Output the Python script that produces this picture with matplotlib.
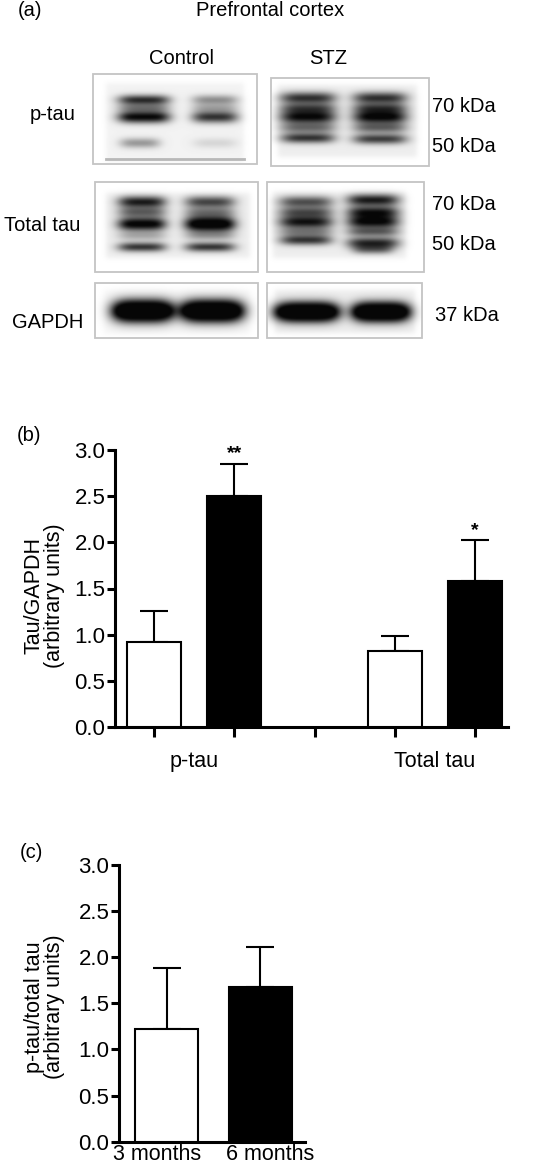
import numpy as np
import matplotlib
matplotlib.use('Agg')
import matplotlib.pyplot as plt
import matplotlib.transforms as mtransforms
from matplotlib.patches import Rectangle

plt.rcParams['font.family'] = ['Liberation Sans', 'DejaVu Sans']
plt.rcParams['font.size'] = 14

# ---- dati pannello (b)
groups_b = ['p-tau', 'Total tau']
control_b = [0.92, 0.82]
control_b_err = [0.34, 0.17]
stz_b = [2.50, 1.585]
stz_b_err = [0.35, 0.435]
stars_b = ['**', '*']

# ---- dati pannello (c)
ages_c = ['3 months', '6 months']
ratio_c = [1.22, 1.68]
ratio_c_err = [0.66, 0.43]

# ---- western blot (a): riquadri e bande (coordinate in pixel dell'immagine)
blot_boxes = [(93, 74, 257, 164), (271, 78, 429, 166),
              (95, 182, 258, 272), (267, 182, 424, 272),
              (95, 283, 258, 338), (267, 283, 422, 338)]
blot_inner = [(106, 83, 244, 162), (278, 85, 417, 157),
              (106, 193, 250, 258), (273, 192, 406, 258),
              (104, 290, 250, 334), (275, 290, 415, 333)]
blot_bg = [0.95, 0.93, 0.93, 0.93, 0.97, 0.93]
# (centro x, centro y, mezza larghezza, mezza altezza, intensita')
blot_bands = [
    [(144, 100, 26, 4, 1.0), (144, 108, 26, 3, 0.55), (144, 117, 26, 5, 1.2), (140, 143, 20, 4, 0.45),
     (215, 100, 23, 4, 0.5), (215, 108, 23, 3, 0.35), (215, 117, 23, 5, 0.9), (215, 143, 22, 4, 0.14)],
    [(308, 98, 28, 5, 0.9), (308, 108, 28, 4, 0.7), (308, 117, 28, 6, 1.05), (308, 128, 28, 4, 0.6), (308, 138, 27, 4, 0.95),
     (380, 98, 27, 5, 0.9), (380, 108, 27, 4, 0.75), (380, 117, 27, 6, 1.1), (380, 128, 27, 4, 0.65), (380, 139, 27, 4, 0.9)],
    [(142, 202, 24, 5, 1.0), (142, 212, 24, 4, 0.65), (142, 224, 24, 6, 1.2), (142, 236, 24, 3, 0.35), (142, 247, 24, 3.5, 1.0),
     (210, 202, 25, 5, 0.8), (210, 212, 25, 4, 0.5), (210, 224, 25, 7, 1.4), (210, 236, 25, 3, 0.4), (210, 247, 25, 3.5, 1.0)],
    [(306, 202, 27, 5, 0.75), (306, 212, 27, 4, 0.7), (306, 222, 27, 6, 1.0), (306, 232, 27, 3, 0.5), (306, 240, 26, 4, 0.95),
     (373, 200, 26, 5, 1.0), (373, 212, 26, 5, 0.95), (373, 222, 26, 6, 1.05), (373, 232, 26, 3, 0.7), (373, 243, 26, 5, 0.95), (373, 250, 20, 3, 0.6)],
    [(143, 311, 30, 10, 2.0), (212, 311, 31, 10, 2.0)],
    [(307, 312, 31, 8.5, 2.2), (381, 312, 28, 8.5, 2.2)],
]

W, H = 541, 1168
fig = plt.figure(figsize=(W / 100, H / 100), dpi=100)


def px_axes(x0, y0, x1, y1):
    return fig.add_axes([x0 / W, 1 - y1 / H, (x1 - x0) / W, (y1 - y0) / H])


def sig(v):
    return 1 / (1 + np.exp(-v))


def blur(a, sigma):
    # sfocatura gaussiana separabile
    r = int(3 * sigma)
    k = np.exp(-0.5 * (np.arange(-r, r + 1) / sigma) ** 2)
    k /= k.sum()
    a = np.apply_along_axis(lambda v: np.convolve(np.pad(v, r, mode='edge'), k, mode='valid'), 0, a)
    a = np.apply_along_axis(lambda v: np.convolve(np.pad(v, r, mode='edge'), k, mode='valid'), 1, a)
    return a


# ================= pannello (a)
ax_a = px_axes(0, 0, W, 350)

for box, inner, bg, bands in zip(blot_boxes, blot_inner, blot_bg, blot_bands):
    x0, y0, x1, y1 = box
    xs = np.arange(x0, x1, 0.5) + 0.25
    ys = np.arange(y0, y1, 0.5) + 0.25
    X, Y = np.meshgrid(xs, ys)
    ix0, iy0, ix1, iy1 = inner
    mask = sig((X - ix0) / 1.5) * sig((ix1 - X) / 1.5) * sig((Y - iy0) / 1.5) * sig((iy1 - Y) / 1.5)
    base = 1 - (1 - bg) * mask
    dark = np.zeros_like(X)
    for cx, cy, hw, hh, s in bands:
        dark += s * np.exp(-(np.abs(X - cx) / hw) ** 4 - ((Y - cy) / hh) ** 2)
    dark = blur(np.clip(dark, 0, 1), 4.5)
    img = base * (1 - 0.97 * np.clip(dark * 1.08, 0, 1))
    ax_a.imshow(img, cmap='gray', vmin=0, vmax=1, extent=(x0, x1, y1, y0),
                interpolation='bilinear', zorder=1)
    ax_a.add_patch(Rectangle((x0, y0), x1 - x0, y1 - y0, fill=False,
                             edgecolor='#c4c4c4', lw=1.3, zorder=2))

# linea grigia sotto il blot p-tau controllo
ax_a.plot([106, 244], [159, 159], color='#b8b8b8', lw=2, zorder=3)
ax_a.set_xlim(0, W)
ax_a.set_ylim(350, 0)
ax_a.set_aspect('auto')
ax_a.axis('off')

fs_a = 14.5
ax_a.text(18, 10, '(a)', ha='left', va='center', fontsize=fs_a)
ax_a.text(270, 10, 'Prefrontal cortex', ha='center', va='center', fontsize=fs_a)
ax_a.text(182, 58, 'Control', ha='center', va='center', fontsize=fs_a)
ax_a.text(328, 58, 'STZ', ha='center', va='center', fontsize=fs_a)
ax_a.text(53, 115, 'p-tau', ha='center', va='center', fontsize=fs_a)
ax_a.text(42, 226, 'Total tau', ha='center', va='center', fontsize=fs_a)
ax_a.text(48, 323, 'GAPDH', ha='center', va='center', fontsize=fs_a)
for lab, yy in zip(['70 kDa', '50 kDa', '70 kDa', '50 kDa'], [106, 146, 205, 245]):
    ax_a.text(432, yy, lab, ha='left', va='center', fontsize=fs_a)
ax_a.text(435, 316, '37 kDa', ha='left', va='center', fontsize=fs_a)

fs = 15.5


def style_axes(ax):
    for s in ['top', 'right']:
        ax.spines[s].set_visible(False)
    for s in ['left', 'bottom']:
        ax.spines[s].set_linewidth(2.2)
    ax.set_ylim(0, 3)
    ax.set_yticks(np.arange(0, 3.01, 0.5))
    ax.set_yticklabels([f'{v:.1f}' for v in np.arange(0, 3.01, 0.5)])
    ax.tick_params(axis='y', direction='out', length=6, width=2.2, pad=1, labelsize=16)


# ================= pannello (b)
ax_b = px_axes(115, 450, 508, 727)
bw = 0.67
x_ctrl = [3 * i for i in range(len(groups_b))]
x_stz = [3 * i + 1 for i in range(len(groups_b))]
ax_b.bar(x_ctrl, control_b, bw, color='white', edgecolor='black', lw=1.5, zorder=3)
ax_b.bar(x_stz, stz_b, bw, color='black', edgecolor='black', lw=1.5, zorder=3)
ax_b.errorbar(x_ctrl, control_b, yerr=[np.zeros(len(control_b)), control_b_err], fmt='none',
              ecolor='black', elinewidth=1.5, capsize=10, capthick=1.5, zorder=2)
ax_b.errorbar(x_stz, stz_b, yerr=[np.zeros(len(stz_b)), stz_b_err], fmt='none',
              ecolor='black', elinewidth=1.5, capsize=10, capthick=1.5, zorder=2)
for x, v, e, st in zip(x_stz, stz_b, stz_b_err, stars_b):
    ax_b.annotate(st, (x, v + e), xytext=(0, 1), textcoords='offset points',
                  ha='center', va='bottom', fontsize=14, fontweight='bold')
style_axes(ax_b)
ax_b.set_xlim(-0.486, 4.41)
ax_b.set_xticks(range(3 * len(groups_b) - 1))
ax_b.set_xticklabels([''] * (3 * len(groups_b) - 1))
ax_b.tick_params(axis='x', direction='out', length=7, width=2.2)
trans_b = mtransforms.blended_transform_factory(ax_b.transData, ax_b.transAxes)
for i, g in enumerate(groups_b):
    ax_b.text(3 * i + 0.5, -0.126, g, transform=trans_b, ha='center', va='center', fontsize=fs)
ax_b.set_ylabel('Tau/GAPDH\n(arbitrary units)', linespacing=0.95, fontsize=fs)
ax_b.yaxis.set_label_coords(-0.128, 0.473)
fig.text(17 / W, 1 - 435 / H, '(b)', ha='left', va='center', fontsize=fs_a)

# ================= pannello (c)
ax_c = px_axes(119, 865, 305, 1141.7)
x_c = list(range(len(ages_c)))
ax_c.bar(x_c, ratio_c, 0.674, color=['white', 'black'], edgecolor='black', lw=1.5, zorder=3)
ax_c.errorbar(x_c, ratio_c, yerr=[np.zeros(len(ratio_c)), ratio_c_err], fmt='none',
              ecolor='black', elinewidth=1.5, capsize=10, capthick=1.5, zorder=2)
style_axes(ax_c)
ax_c.set_xlim(-0.508, 1.481)
ax_c.set_xticks(x_c)
ax_c.set_xticklabels(ages_c)
ax_c.tick_params(axis='x', length=0, pad=2, labelsize=fs)
for lab, dx in zip(ax_c.get_xticklabels(), [-9, 10]):
    lab.set_transform(lab.get_transform() + mtransforms.ScaledTranslation(dx / 100, 0, fig.dpi_scale_trans))
ax_c.set_ylabel('p-tau/total tau\n(arbitrary units)', linespacing=0.95, fontsize=fs)
ax_c.yaxis.set_label_coords(-0.29, 0.487)
fig.text(20 / W, 1 - 853 / H, '(c)', ha='left', va='center', fontsize=fs_a)

fig.savefig('out.png', dpi=100)
